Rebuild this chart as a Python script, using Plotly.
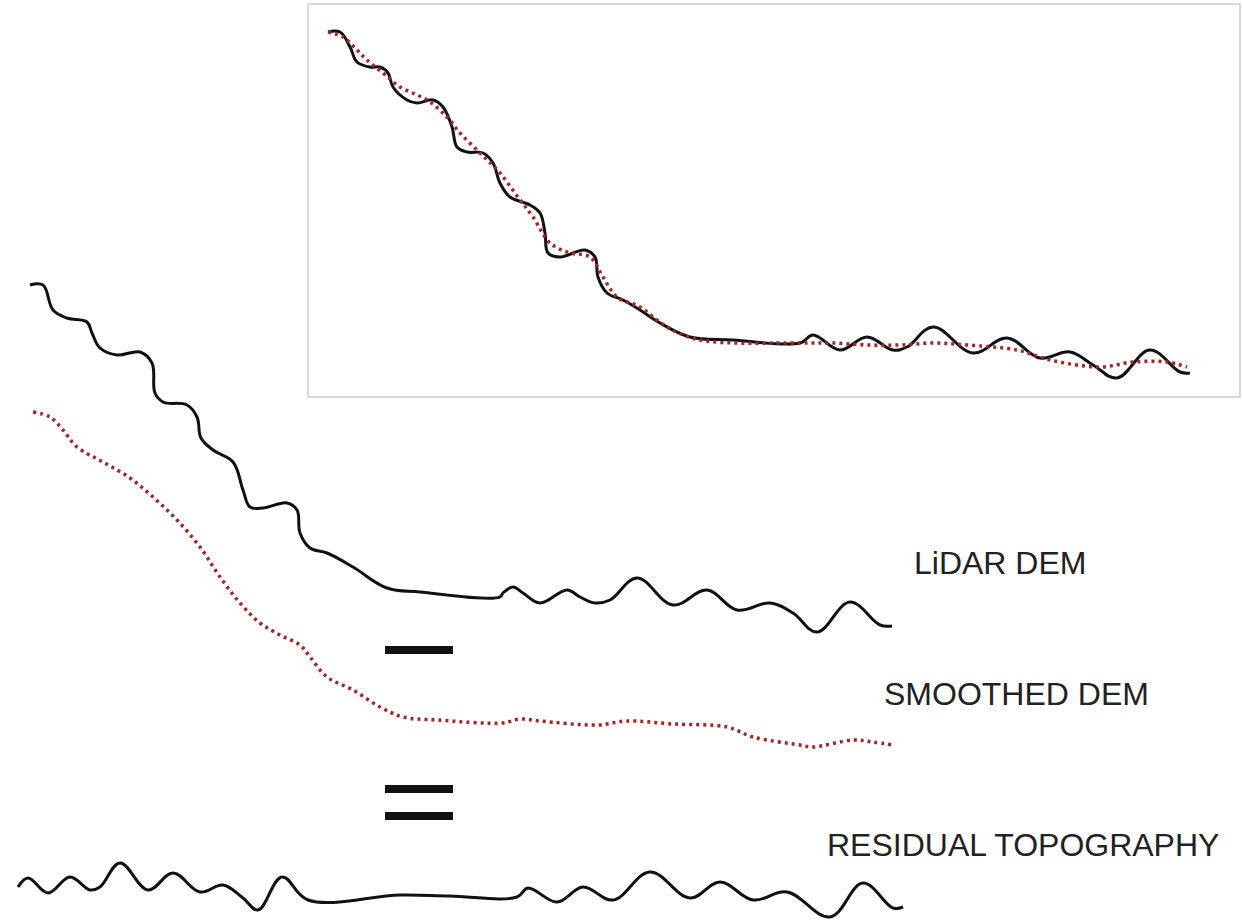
import plotly.graph_objects as go

# page is drawn in pixel units: x to the right, y downwards
W, H = 1243, 920

# LiDAR DEM profile (main, black)
lidar_x = [30, 43, 53, 67, 87, 92, 100, 117, 140, 152, 155, 163, 187, 197, 201, 213, 233, 243,
           250, 263, 287, 297, 300, 310, 327, 353, 387, 420, 500, 503, 513, 523, 540, 567, 580,
           595, 610, 637, 673, 707, 737, 770, 793, 817, 850, 880, 892]
lidar_y = [285, 285, 310, 318, 322, 333, 348, 355, 352, 363, 393, 402, 405, 417, 438, 450, 462, 490,
           507, 508, 503, 510, 533, 548, 553, 567, 588, 592, 597, 593, 587, 593, 603, 590, 597,
           603, 600, 578, 605, 590, 610, 603, 613, 632, 602, 625, 626]

# smoothed DEM profile (main, red dotted)
smooth_x = [33, 50, 63, 77, 103, 130, 153, 177, 200, 220, 240, 260, 280, 300, 310, 327, 353, 380,
            403, 437, 503, 520, 540, 597, 627, 673, 727, 753, 800, 813, 853, 873, 893]
smooth_y = [412, 417, 430, 447, 462, 478, 497, 520, 547, 577, 603, 623, 635, 645, 657, 677, 690, 707,
            717, 720, 723, 719, 721, 725, 721, 724, 727, 737, 745, 747, 740, 742, 745]

# residual topography (bottom, black)
resid_x = [18, 28, 48, 70, 90, 100, 120, 148, 173, 200, 223, 243, 258, 282, 308, 400, 450, 517,
           528, 557, 583, 613, 650, 690, 720, 753, 787, 830, 863, 893, 903]
resid_y = [887, 878, 893, 877, 890, 887, 863, 890, 873, 892, 885, 898, 910, 877, 900, 895, 896, 897,
           888, 902, 887, 900, 872, 898, 882, 900, 892, 917, 883, 908, 907]

# inset: LiDAR and smoothed DEM overlaid
inset_lidar_x = [328, 340, 350, 357, 370, 380, 388, 393, 407, 417, 433, 443, 452, 457, 467, 483, 493,
                 500, 510, 530, 540, 545, 548, 560, 585, 595, 598, 607, 623, 640, 660, 690, 733,
                 800, 813, 840, 867, 893, 907, 933, 973, 1007, 1040, 1070, 1093, 1117, 1150, 1180, 1190]
inset_lidar_y = [32, 32, 47, 62, 67, 67, 73, 87, 100, 103, 100, 107, 127, 147, 152, 153, 163,
                 183, 197, 205, 213, 233, 253, 257, 250, 257, 277, 293, 300, 310, 323, 337, 340,
                 343, 335, 350, 337, 350, 347, 327, 353, 338, 358, 352, 365, 378, 350, 372, 373]
inset_smooth_x = [328, 343, 357, 367, 383, 400, 427, 447, 460, 480, 500, 520, 533, 550, 570, 590, 603,
                  617, 640, 667, 700, 800, 833, 867, 900, 933, 967, 1017, 1050, 1100, 1133, 1167, 1187]
inset_smooth_y = [32, 37, 50, 60, 73, 87, 100, 117, 133, 153, 173, 200, 217, 243, 253, 257, 277,
                  297, 307, 327, 340, 343, 343, 345, 345, 343, 345, 350, 360, 367, 362, 362, 367]

inset_box_x = [308, 1240]
inset_box_y = [4, 397]

# operator bars ("-" and "=")
op_x = [385, 453]
minus_y = [650]
equals_y = [789, 816]

labels = ["LiDAR DEM", "SMOOTHED DEM", "RESIDUAL TOPOGRAPHY"]
label_x = [1000, 1016, 1023]
label_y = [563, 694, 845]

BLACK = "#111111"
RED = "#9c282a"

fig = go.Figure()

# inset frame
fig.add_trace(go.Scatter(
    x=[inset_box_x[0], inset_box_x[1], inset_box_x[1], inset_box_x[0], inset_box_x[0]],
    y=[inset_box_y[0], inset_box_y[0], inset_box_y[1], inset_box_y[1], inset_box_y[0]],
    mode="lines", line=dict(color="#cccccc", width=1.5)))

fig.add_trace(go.Scatter(x=inset_lidar_x, y=inset_lidar_y, mode="lines",
                         line=dict(color=BLACK, width=3, shape="spline", smoothing=1.1)))
fig.add_trace(go.Scatter(x=inset_smooth_x, y=inset_smooth_y, mode="lines",
                         line=dict(color=RED, width=3.5, dash="3px,4px", shape="spline", smoothing=1)))

fig.add_trace(go.Scatter(x=lidar_x, y=lidar_y, mode="lines",
                         line=dict(color=BLACK, width=3, shape="spline", smoothing=1.1)))
fig.add_trace(go.Scatter(x=smooth_x, y=smooth_y, mode="lines",
                         line=dict(color=RED, width=3.5, dash="3px,4px", shape="spline", smoothing=1)))
fig.add_trace(go.Scatter(x=resid_x, y=resid_y, mode="lines",
                         line=dict(color=BLACK, width=3, shape="spline", smoothing=1.1)))

for yy in minus_y + equals_y:
    fig.add_trace(go.Scatter(x=op_x, y=[yy, yy], mode="lines",
                             line=dict(color=BLACK, width=8)))

for t, lx, ly in zip(labels, label_x, label_y):
    fig.add_annotation(x=lx, y=ly, text=t, showarrow=False, xanchor="center", yanchor="middle",
                       font=dict(family="Liberation Sans, Arial", size=32, color="#222222"))

fig.update_xaxes(range=[0, W], visible=False, showgrid=False, zeroline=False)
fig.update_yaxes(range=[H, 0], visible=False, showgrid=False, zeroline=False)
fig.update_layout(width=W, height=H, margin=dict(l=0, r=0, t=0, b=0),
                  plot_bgcolor="white", paper_bgcolor="white", showlegend=False,
                  hovermode=False)

# drop the default 8px body margin so data units equal screen pixels
fig.write_html("out.html", config={"displayModeBar": False},
               post_script="document.body.style.margin='0';document.body.style.overflow='hidden';")
